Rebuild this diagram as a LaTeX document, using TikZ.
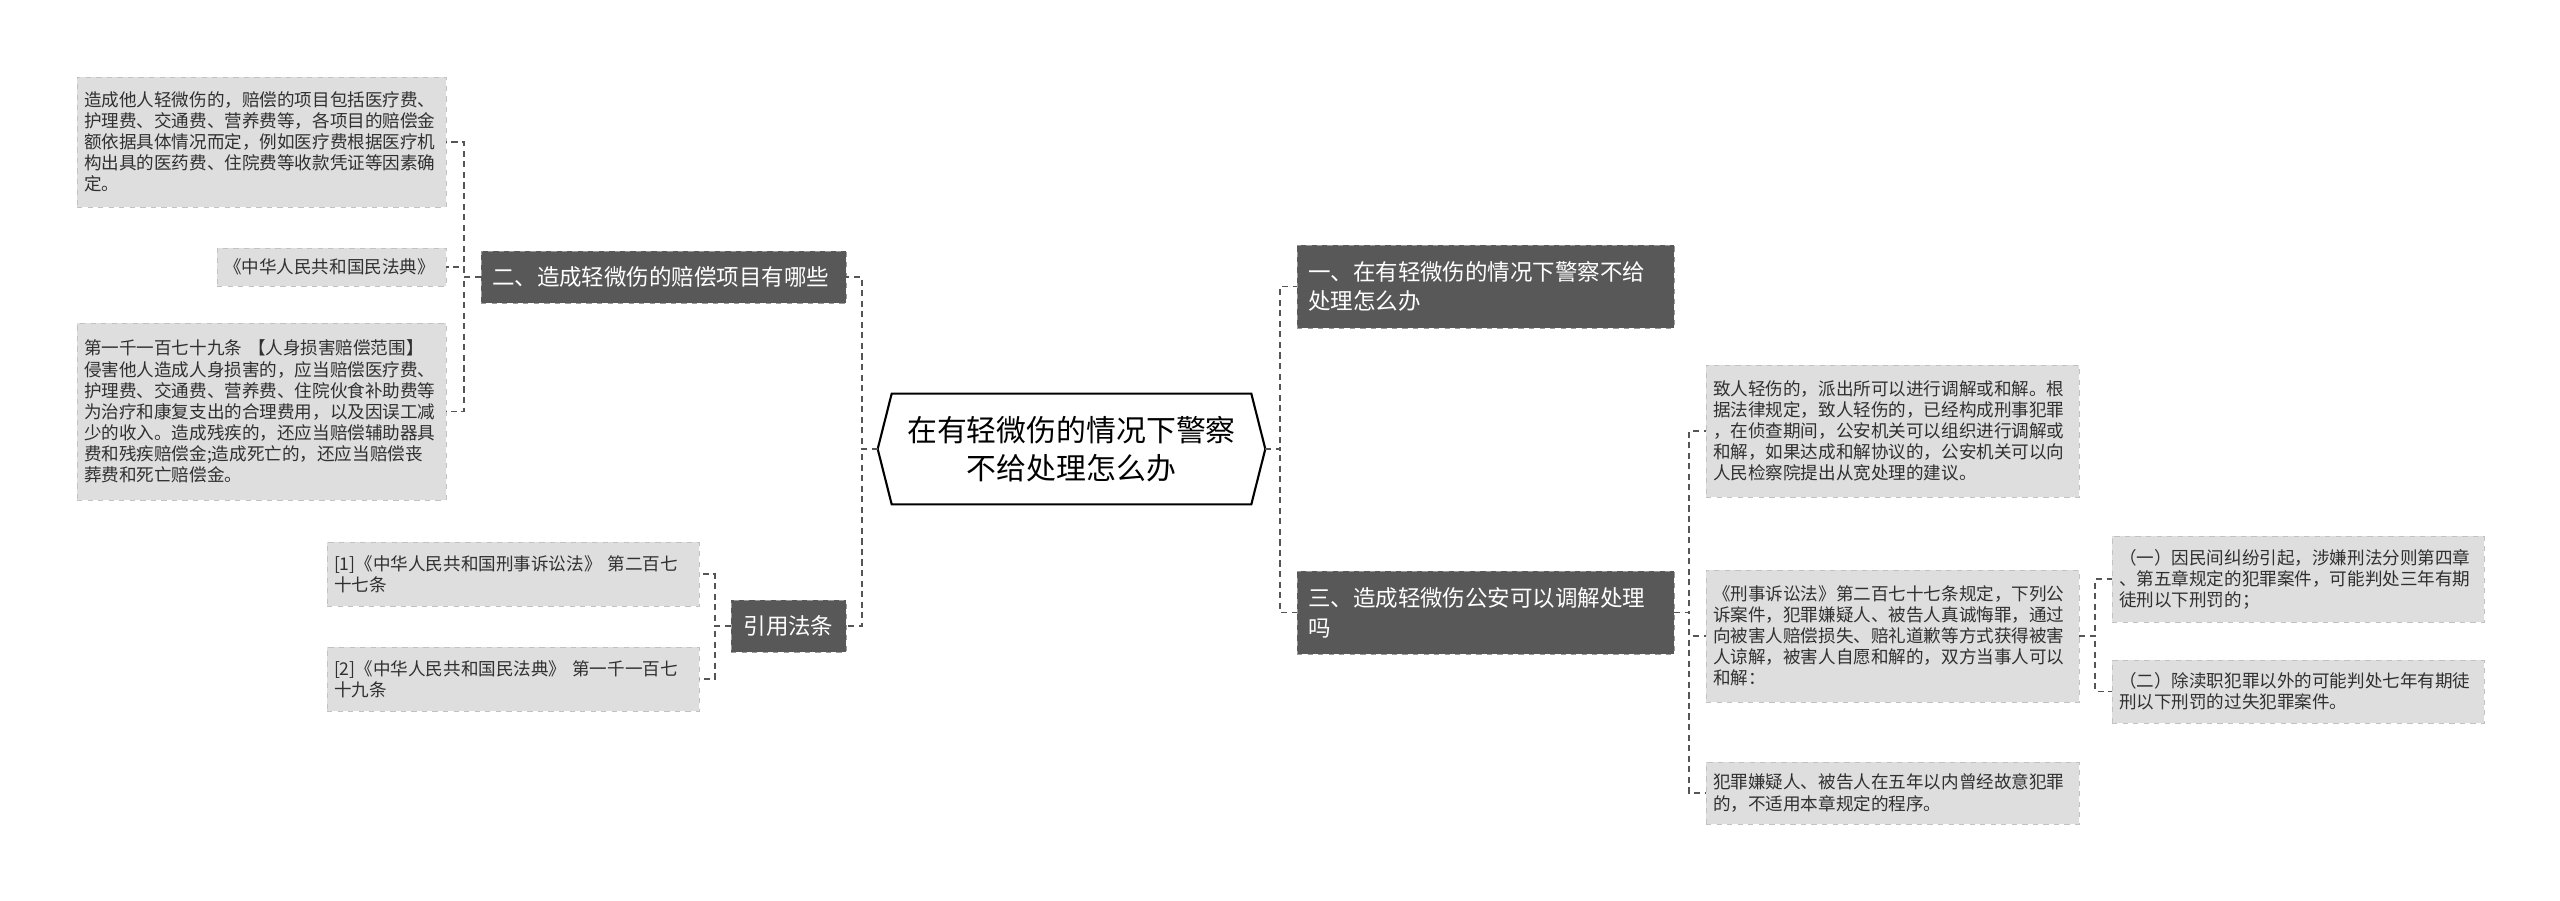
\documentclass[tikz,border=0pt]{standalone}
\usepackage{fontspec}
\usepackage{xcolor}
\newfontfamily\cjk{Noto Sans CJK SC}
\usetikzlibrary{positioning}

\definecolor{branch_fill}{HTML}{585858}
\definecolor{branch_line}{HTML}{9A9A9A}
\definecolor{leaf_fill}{HTML}{DEDEDE}
\definecolor{leaf_line}{HTML}{C2C2C2}
\definecolor{leaf_text}{HTML}{303030}
\definecolor{link_line}{HTML}{555555}

\begin{document}
\begin{tikzpicture}[
    x=0.02cm, y=-0.02cm,
    topic/.style={rectangle, align=center, font=\cjk\fontsize{17}{22}\selectfont, minimum width=7.18cm, minimum height=2.2cm, inner sep=0pt},
    topic_line/.style={draw=black, line width=1.2pt, line join=miter},
    branch/.style={rectangle, align=left, fill=branch_fill, draw=branch_line, dashed, thin, text=white, font=\cjk\fontsize{12.8}{17}\selectfont, inner xsep=0.22cm, inner ysep=0pt},
    leaf/.style={rectangle, align=left, fill=leaf_fill, draw=leaf_line, dashed, thin, text=leaf_text, font=\cjk\fontsize{10}{12}\selectfont, inner xsep=0.14cm, inner ysep=0pt},
    link/.style={draw=link_line, line width=1pt, dash pattern=on 3.5pt off 2.5pt},
]
    \fill[white] (0, 0) rectangle (2560, 901);
    \useasboundingbox (0, 0) rectangle (2560, 901);

    % centre topic
    \node(root)[topic] at (1071.5, 449) {在有轻微伤的情况下警察\\ 不给处理怎么办};
    \coordinate(root_w) at ([xshift=-0.28cm]root.west);
    \coordinate(root_e) at ([xshift=0.28cm]root.east);
    \draw[topic_line] (root.north west) -- (root.north east) -- (root_e) -- (root.south east) -- (root.south west) -- (root_w) -- cycle;

    % left side
    \node(b2)[branch, text width=6.86cm, minimum height=1.04cm] at (663.5, 277) {二、造成轻微伤的赔偿项目有哪些};
    \node(cite)[branch, minimum width=2.30cm, minimum height=1.04cm] at (788.5, 626) {引用法条};

    \node(l1)[leaf, text width=7.10cm, minimum height=2.6cm] at (261.5, 142) {造成他人轻微伤的，赔偿的项目包括医疗费、\\ 护理费、交通费、营养费等，各项目的赔偿金\\ 额依据具体情况而定，例如医疗费根据医疗机\\ 构出具的医药费、住院费等收款凭证等因素确\\ 定。};
    \node(l2)[leaf, text width=4.30cm, minimum height=0.76cm] at (331.5, 267) {《中华人民共和国民法典》};
    \node(l3)[leaf, text width=7.10cm, minimum height=3.54cm] at (261.5, 411.5) {第一千一百七十九条 【人身损害赔偿范围】\\ 侵害他人造成人身损害的，应当赔偿医疗费、\\ 护理费、交通费、营养费、住院伙食补助费等\\ 为治疗和康复支出的合理费用，以及因误工减\\ 少的收入。造成残疾的，还应当赔偿辅助器具\\ 费和残疾赔偿金;造成死亡的，还应当赔偿丧\\ 葬费和死亡赔偿金。};

    \node(c1)[leaf, text width=7.16cm, minimum height=1.28cm] at (513, 574) {[1]《中华人民共和国刑事诉讼法》 第二百七\\ 十七条};
    \node(c2)[leaf, text width=7.16cm, minimum height=1.28cm] at (513, 679) {[2]《中华人民共和国民法典》 第一千一百七\\ 十九条};

    % right side
    \node(b1)[branch, text width=7.10cm, minimum height=1.66cm] at (1485.5, 286.5) {一、在有轻微伤的情况下警察不给\\ 处理怎么办};
    \node(b3)[branch, text width=7.10cm, minimum height=1.66cm] at (1485.5, 612.5) {三、造成轻微伤公安可以调解处理\\ 吗};

    \node(r1)[leaf, text width=7.18cm, minimum height=2.64cm] at (1892.5, 431) {致人轻伤的，派出所可以进行调解或和解。根\\ 据法律规定，致人轻伤的，已经构成刑事犯罪\\ ，在侦查期间，公安机关可以组织进行调解或\\ 和解，如果达成和解协议的，公安机关可以向\\ 人民检察院提出从宽处理的建议。};
    \node(r2)[leaf, text width=7.18cm, minimum height=2.64cm] at (1892.5, 636) {《刑事诉讼法》第二百七十七条规定，下列公\\ 诉案件，犯罪嫌疑人、被告人真诚悔罪，通过\\ 向被害人赔偿损失、赔礼道歉等方式获得被害\\ 人谅解，被害人自愿和解的，双方当事人可以\\ 和解：};
    \node(r3)[leaf, text width=7.18cm, minimum height=1.24cm] at (1892.5, 793) {犯罪嫌疑人、被告人在五年以内曾经故意犯罪\\ 的，不适用本章规定的程序。};

    \node(r2a)[leaf, text width=7.16cm, minimum height=1.72cm] at (2298, 579) {（一）因民间纠纷引起，涉嫌刑法分则第四章\\ 、第五章规定的犯罪案件，可能判处三年有期\\ 徒刑以下刑罚的；};
    \node(r2b)[leaf, text width=7.16cm, minimum height=1.26cm] at (2298, 691.5) {（二）除渎职犯罪以外的可能判处七年有期徒\\ 刑以下刑罚的过失犯罪案件。};

    % connectors
    \draw[link] (root_w) -- ++(-16, 0) |- (b2.east);
    \draw[link] (root_w) -- ++(-16, 0) |- (cite.east);
    \draw[link] (root_e) -- ++(15, 0) |- (b1.west);
    \draw[link] (root_e) -- ++(15, 0) |- (b3.west);

    \draw[link] (b2.west) -- ++(-17, 0) |- (l1.east);
    \draw[link] (b2.west) -- ++(-17, 0) |- (l2.east);
    \draw[link] (b2.west) -- ++(-17, 0) |- (l3.east);

    \draw[link] (cite.west) -- ++(-16, 0) |- (c1.east);
    \draw[link] (cite.west) -- ++(-16, 0) |- (c2.east);

    \draw[link] (b3.east) -- ++(15, 0) |- (r1.west);
    \draw[link] (b3.east) -- ++(15, 0) |- (r2.west);
    \draw[link] (b3.east) -- ++(15, 0) |- (r3.west);

    \draw[link] (r2.east) -- ++(16, 0) |- (r2a.west);
    \draw[link] (r2.east) -- ++(16, 0) |- (r2b.west);
\end{tikzpicture}
\end{document}
